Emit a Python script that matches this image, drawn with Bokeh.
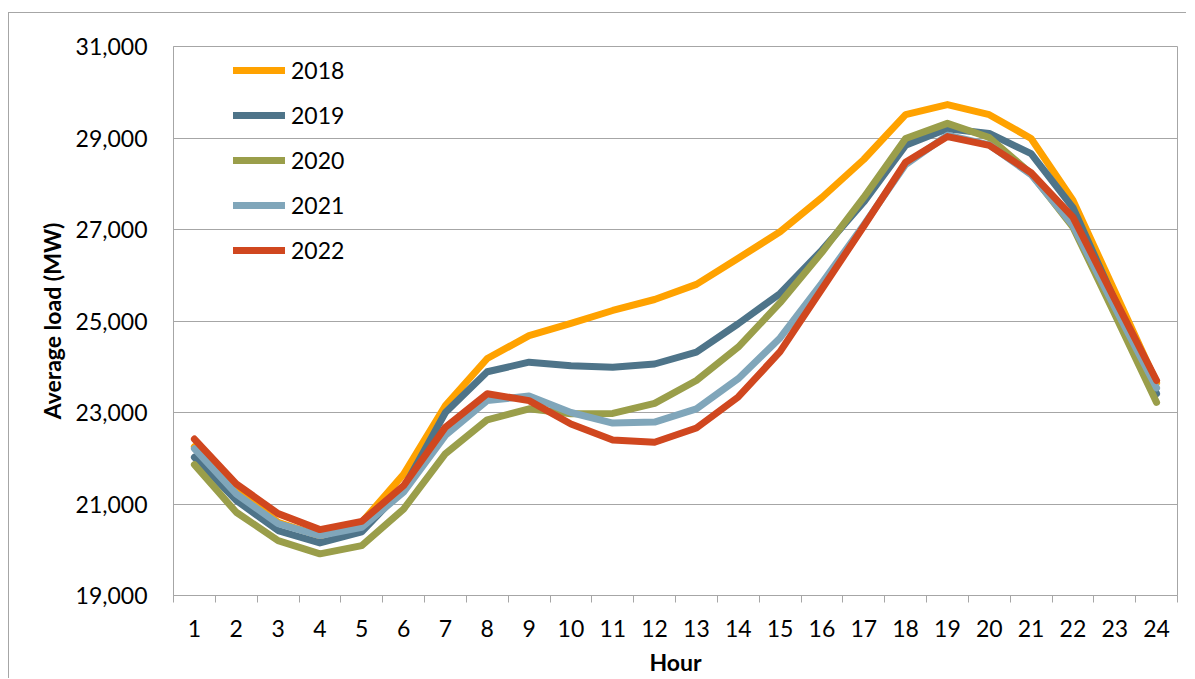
from bokeh.plotting import figure
from bokeh.models import FixedTicker, NumeralTickFormatter, Legend, LegendItem, Range1d
from bokeh.embed import file_html
from bokeh.resources import INLINE

# ---- data -------------------------------------------------------------
hours = list(range(1, 25))
years = ["2018", "2019", "2020", "2021", "2022"]

load_2018 = [22250, 21300, 20600, 20300, 20600, 21650, 23150, 24180, 24680, 24950, 25230, 25470,
             25800, 26370, 26950, 27700, 28530, 29510, 29730, 29510, 28990, 27640, 25650, 23650]
load_2019 = [22020, 21080, 20420, 20150, 20390, 21350, 23000, 23890, 24100, 24020, 23990, 24060,
             24320, 24940, 25600, 26550, 27600, 28840, 29200, 29100, 28660, 27480, 25450, 23410]
load_2020 = [21860, 20820, 20200, 19910, 20090, 20890, 22100, 22840, 23080, 22970, 22980, 23200,
             23700, 24430, 25400, 26500, 27700, 28990, 29320, 29010, 28220, 27050, 25150, 23220]
load_2021 = [22210, 21220, 20570, 20310, 20490, 21260, 22500, 23260, 23360, 23000, 22770, 22790,
             23080, 23740, 24630, 25830, 27100, 28420, 29060, 28850, 28200, 27090, 25300, 23540]
load_2022 = [22420, 21440, 20790, 20440, 20620, 21400, 22680, 23410, 23260, 22750, 22400, 22350,
             22660, 23340, 24330, 25700, 27070, 28470, 29030, 28840, 28240, 27270, 25480, 23700]

y_ticks = [19000, 21000, 23000, 25000, 27000, 29000, 31000]

series = [load_2018, load_2019, load_2020, load_2021, load_2022]
colors = ["#FFA200", "#4E7489", "#9A9E4A", "#80A6BA", "#D0471F"]

GRAY = "#a6a6a6"
FONT = "Lato"

# ---- figure -----------------------------------------------------------
p = figure(width=1178, height=666, output_backend="svg", toolbar_location=None,
           x_range=Range1d(0.5, 24.5), y_range=Range1d(19000, 31000),
           min_border_left=164, min_border_right=10, min_border_top=33, min_border_bottom=84)
p.margin = (12, 0, -8, 8)
p.styles = {"border-left": "1px solid #a6a6a6", "border-top": "1px solid #a6a6a6"}

p.background_fill_color = "white"
p.border_fill_color = "white"
p.outline_line_color = GRAY
p.outline_line_width = 1

renderers = []
for vals, c in zip(series, colors):
    r = p.line(hours, vals, line_width=7, line_color=c, line_join="round", line_cap="round")
    renderers.append(r)

# grid
p.xgrid.visible = False
p.ygrid.grid_line_color = GRAY
p.ygrid.grid_line_width = 1
p.ygrid.ticker = FixedTicker(ticks=y_ticks)

# y axis
p.yaxis.ticker = FixedTicker(ticks=y_ticks)
p.yaxis.formatter = NumeralTickFormatter(format="0,0")
p.yaxis.axis_line_color = GRAY
p.yaxis.major_tick_out = 0
p.yaxis.major_tick_in = 0
p.yaxis.minor_tick_out = 0
p.yaxis.minor_tick_in = 0
p.yaxis.major_label_standoff = 26
p.yaxis.major_label_text_font = FONT
p.yaxis.major_label_text_font_size = "23px"
p.yaxis.major_label_text_color = "black"
p.yaxis.axis_label = "Average load (MW)"
p.yaxis.axis_label_text_font = FONT
p.yaxis.axis_label_text_font_style = "bold"
p.yaxis.axis_label_text_font_size = "23px"
p.yaxis.axis_label_text_color = "black"
p.yaxis.axis_label_standoff = 7

# x axis
p.xaxis.ticker = FixedTicker(ticks=hours, minor_ticks=[h + 0.5 for h in range(0, 25)])
p.xaxis.axis_line_color = GRAY
p.xaxis.major_tick_out = 0
p.xaxis.major_tick_in = 0
p.xaxis.minor_tick_out = 7
p.xaxis.minor_tick_in = 0
p.xaxis.minor_tick_line_color = GRAY
p.xaxis.major_label_standoff = 17
p.xaxis.major_label_text_font = FONT
p.xaxis.major_label_text_font_size = "23px"
p.xaxis.major_label_text_color = "black"
p.xaxis.axis_label = "Hour"
p.xaxis.axis_label_text_font = FONT
p.xaxis.axis_label_text_font_style = "bold"
p.xaxis.axis_label_text_font_size = "23px"
p.xaxis.axis_label_text_color = "black"
p.xaxis.axis_label_standoff = 8

# legend
items = [LegendItem(label=y, renderers=[r]) for y, r in zip(years, renderers)]
legend = Legend(items=items, location=(60, 331), orientation="vertical",
                padding=0, margin=0, spacing=17,
                glyph_width=52, glyph_height=28, label_height=28, label_standoff=6,
                label_text_font=FONT, label_text_font_size="23px", label_text_color="black",
                background_fill_alpha=0, border_line_alpha=0)
p.add_layout(legend)

open("out.html", "w").write(file_html(p, INLINE))
